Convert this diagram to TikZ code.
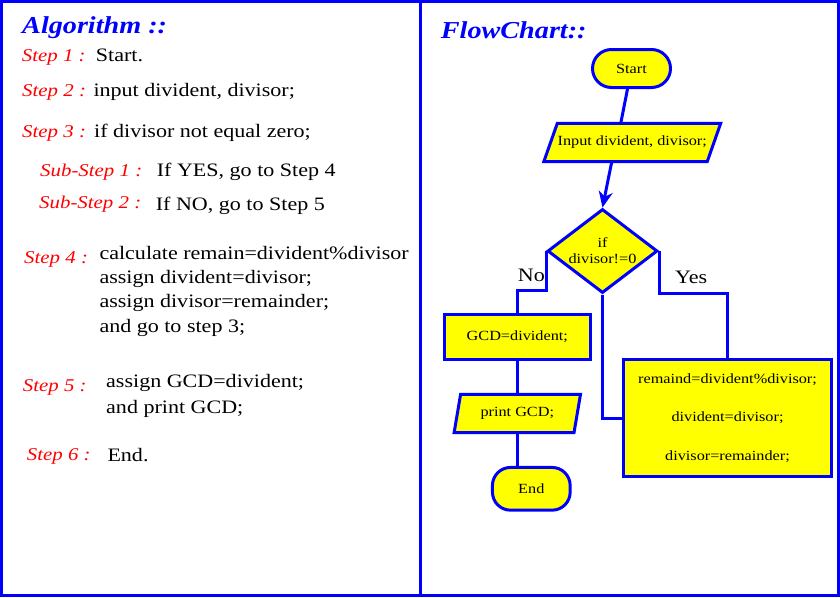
\documentclass[tikz,border=0pt]{standalone}
\usepackage{fontspec}
\setmainfont{Liberation Serif}[FakeStretch=1.16]
\usetikzlibrary{shapes.geometric,arrows.meta,calc,backgrounds}
\definecolor{fblue}{RGB}{0,0,255}
\definecolor{fred}{RGB}{255,0,0}
\definecolor{fyellow}{RGB}{255,255,0}
\begin{document}
\begin{tikzpicture}[x=1pt,y=-1pt,
  txt/.style={anchor=base west, inner sep=0pt, font=\fontsize{19}{23}\selectfont},
  steplbl/.style={anchor=base west, inner sep=0pt, text=fred, font=\fontsize{18}{22}\selectfont\itshape},
  ttl/.style={anchor=base west, inner sep=0pt, text=fblue, font=\fontsize{24.3}{29}\selectfont\bfseries\itshape},
  shp/.style={draw=fblue, line width=3pt, fill=fyellow, inner sep=0pt, font=\fontsize{14}{16}\selectfont, align=center},
  term/.style={shp, rectangle, rounded corners=#1},
  proc/.style={shp, rectangle},
  decision/.style={shp, diamond, aspect=1.3},
  iotext/.style={inner sep=0pt, font=\fontsize{14}{16}\selectfont},
  para/.style={draw=fblue, line width=3pt, fill=fyellow, line join=miter},
  conn/.style={draw=fblue, line width=3pt},
  lbl/.style={anchor=base west, inner sep=0pt, font=\fontsize{19}{23}\selectfont},
  outerframe/.style={draw=fblue, line width=3pt}
]
\useasboundingbox (0,0) rectangle (840,597);
\begin{scope}[on background layer]
  \fill[white] (0,0) rectangle (840,597);
\end{scope}
\draw[outerframe] (1.5,1.5) rectangle (838.5,595.5);
\draw[outerframe] (420,1.5) -- (420,595.5);

% ---------- Algorithm ----------
\node[ttl] (algt) at (22,33.3) {Algorithm ::};
\node[steplbl] (s1) at (21.7,61) {Step 1 :};
\node[txt] (t1) at (95.7,61.5) {Start.};
\node[steplbl] (s2) at (22,96.7) {Step 2 :};
\node[txt] (t2) at (93.3,96.7) {input divident, divisor;};
\node[steplbl] (s3) at (22,137.3) {Step 3 :};
\node[txt] (t3) at (94,137.3) {if divisor not equal zero;};
\node[steplbl] (ss1) at (40,176.7) {Sub-Step 1 :};
\node[txt] (tss1) at (156.7,176.7) {If YES, go to Step 4};
\node[steplbl] (ss2) at (39,208.5) {Sub-Step 2 :};
\node[txt] (tss2) at (155.7,210.7) {If NO, go to Step 5};
\node[steplbl] (s4) at (24,263) {Step 4 :};
\node[txt] (t4a) at (99.3,259.3) {calculate remain=divident\%divisor};
\node[txt] (t4b) at (99.3,283.3) {assign divident=divisor;};
\node[txt] (t4c) at (99.3,307.5) {assign divisor=remainder;};
\node[txt] (t4d) at (99.3,332) {and go to step 3;};
\node[steplbl] (s5) at (22.7,391.7) {Step 5 :};
\node[txt] (t5a) at (106,387.3) {assign GCD=divident;};
\node[txt] (t5b) at (106,413) {and print GCD;};
\node[steplbl] (s6) at (26.7,460) {Step 6 :};
\node[txt] (t6) at (107.3,461.7) {End.};

% ---------- FlowChart ----------
\node[ttl] (fct) at (440.7,38.3) {FlowChart::};
\node[term=19, minimum width=78, minimum height=38] (start) at (631.5,68.5) {Start};
\node[iotext, minimum width=176.5, minimum height=38] (in) at (632.25,142.5) {Input divident, divisor;};
\node[decision, minimum width=110, minimum height=84] (cond) at (602.5,251) {if\\divisor!=0};
\node[proc, minimum width=145.7, minimum height=44.7] (gcd) at (517.3,336.9) {GCD=divident;};
\node[iotext, minimum width=126, minimum height=38] (pr) at (517.3,413.5) {print GCD;};
\node[term=18, minimum width=77.7, minimum height=42.7] (endn) at (531.3,488.8) {End};
\node[proc, minimum width=208.6, minimum height=117, font=\fontsize{14}{38.3}\selectfont] (rem) at (727.5,418)
  {remaind=divident\%divisor;\\divident=divisor;\\divisor=remainder;};

\begin{scope}[on background layer]
  \draw[para] ($(in.north west)+(13.5,0)$) -- (in.north east) -- ($(in.south east)+(-13.5,0)$) -- (in.south west) -- cycle;
  \draw[para] ($(pr.north west)+(6.5,0)$) -- (pr.north east) -- ($(pr.south east)+(-6.5,0)$) -- (pr.south west) -- cycle;
\end{scope}

\draw[conn] ($(start.south)+(-4,0)$) -- ($(in.north)+(-11.5,0)$);
\draw[conn, -{Stealth[length=16pt,width=14pt,inset=5pt]}] ($(in.south)+(-20.5,0)$) -- (cond.north);
\draw[conn] (cond.west) -- ++(0,39) -| (gcd.north);
\draw[conn] (cond.east) -- ++(0,42) -| (rem.north);
\draw[conn] (cond.south) |- (rem.west);
\draw[conn] (gcd.south) -- (pr.north);
\draw[conn] (pr.south) -- (pr.south |- endn.north);

\node[lbl] (no) at (517.7,281) {No};
\node[lbl] (yes) at (675,283.3) {Yes};
\end{tikzpicture}
\end{document}
